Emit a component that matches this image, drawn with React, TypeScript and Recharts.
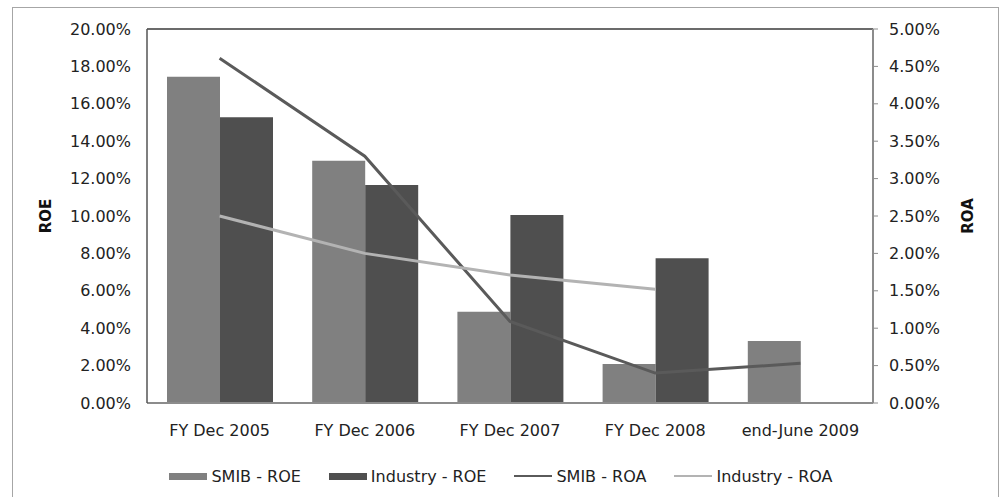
import React from "react";
import {
  ComposedChart,
  Bar,
  Line,
  XAxis,
  YAxis,
  Legend,
  ReferenceLine,
} from "recharts";

const categories = ["FY Dec 2005", "FY Dec 2006", "FY Dec 2007", "FY Dec 2008", "end-June 2009"];
const smibRoe = [17.45, 12.96, 4.88, 2.09, 3.32];
const industryRoe: (number | null)[] = [15.28, 11.66, 10.05, 7.74, null];
const smibRoa = [4.61, 3.3, 1.09, 0.4, 0.53];
const industryRoa: (number | null)[] = [2.5, 2.0, 1.71, 1.52, null];
const roeTicks = [0, 2, 4, 6, 8, 10, 12, 14, 16, 18, 20];
const roaTicks = [0, 0.5, 1, 1.5, 2, 2.5, 3, 3.5, 4, 4.5, 5];

const data = categories.map((c, i) => ({
  name: c,
  smibRoe: smibRoe[i],
  industryRoe: industryRoe[i],
  smibRoa: smibRoa[i],
  industryRoa: industryRoa[i],
}));

const FONT = "'DejaVu Sans', Verdana, sans-serif";
const FS = 16;
const fmt = (v: number) => `${v.toFixed(2)}%`;

const legendItems = [
  { label: "SMIB - ROE", color: "#808080", kind: "bar" },
  { label: "Industry - ROE", color: "#4f4f4f", kind: "bar" },
  { label: "SMIB - ROA", color: "#5a5a5a", kind: "line" },
  { label: "Industry - ROA", color: "#b3b3b3", kind: "line" },
];

const LegendContent = () => (
  <div
    style={{
      display: "flex",
      justifyContent: "center",
      alignItems: "center",
      height: 32,
      fontFamily: FONT,
      fontSize: FS,
      color: "#222",
      gap: 28,
    }}
  >
    {legendItems.map((it) => (
      <div key={it.label} style={{ display: "flex", alignItems: "center" }}>
        <div
          style={{
            width: 38,
            height: it.kind === "bar" ? 7 : 2,
            background: it.color,
            marginRight: 4,
          }}
        />
        <span>{it.label}</span>
      </div>
    ))}
  </div>
);

const axisLabel = (text: string, dx: number) => ({
  content: (props: any) => {
    const vb = props.viewBox;
    const x = vb.x + dx;
    const y = vb.y + vb.height / 2;
    return (
      <text
        x={x}
        y={y}
        transform={`rotate(-90 ${x} ${y})`}
        textAnchor="middle"
        dominantBaseline="central"
        fontFamily={FONT}
        fontSize={15}
        fontWeight="bold"
        fill="#111"
      >
        {text}
      </text>
    );
  },
});

export default function App() {
  return (
    <div style={{ position: "absolute", left: 0, top: 0, width: 1002, height: 497, overflow: "hidden", background: "#fff" }}>
      <div
        style={{
          position: "absolute",
          left: 12,
          top: 7,
          width: 985,
          height: 600,
          border: "1.5px solid #a6a6a6",
        }}
      />
      <div style={{ position: "absolute", left: 0, top: 0 }}>
        <ComposedChart
          width={1002}
          height={497}
          data={data}
          margin={{ top: 29, right: 0, left: 0, bottom: 5 }}
          barCategoryGap={20}
          barGap={0}
        >
          <XAxis
            dataKey="name"
            height={57}
            tickLine={false}
            tickSize={0}
            tickMargin={22}
            axisLine={{ stroke: "#8c8c8c", strokeWidth: 2 }}
            tick={{ fontFamily: FONT, fontSize: FS, fill: "#222" }}
            interval={0}
          />
          <YAxis
            yAxisId="left"
            orientation="left"
            width={147}
            domain={[0, 20]}
            ticks={roeTicks}
            tickFormatter={fmt}
            tickLine={false}
            tickSize={0}
            tickMargin={16}
            axisLine={{ stroke: "#555555", strokeWidth: 1.5 }}
            tick={{ fontFamily: FONT, fontSize: FS, fill: "#222" }}
            label={axisLabel("ROE", 46)}
          />
          <YAxis
            yAxisId="right"
            orientation="right"
            width={129}
            domain={[0, 5]}
            ticks={roaTicks}
            tickFormatter={fmt}
            tickSize={5}
            tickMargin={11}
            tickLine={{ stroke: "#8c8c8c" }}
            axisLine={{ stroke: "#8c8c8c", strokeWidth: 2 }}
            tick={{ fontFamily: FONT, fontSize: FS, fill: "#222" }}
            label={axisLabel("ROA", 95)}
          />
          <ReferenceLine yAxisId="left" y={20} stroke="#3a3a3a" strokeWidth={1.5} />
          <Bar yAxisId="left" dataKey="smibRoe" name="SMIB - ROE" fill="#808080" isAnimationActive={false} />
          <Bar yAxisId="left" dataKey="industryRoe" name="Industry - ROE" fill="#4f4f4f" isAnimationActive={false} />
          <Line
            yAxisId="right"
            type="linear"
            dataKey="smibRoa"
            name="SMIB - ROA"
            stroke="#5a5a5a"
            strokeWidth={3}
            dot={false}
            activeDot={false}
            isAnimationActive={false}
          />
          <Line
            yAxisId="right"
            type="linear"
            dataKey="industryRoa"
            name="Industry - ROA"
            stroke="#b3b3b3"
            strokeWidth={3}
            dot={false}
            activeDot={false}
            isAnimationActive={false}
          />
          <Legend verticalAlign="bottom" height={32} content={<LegendContent />} />
        </ComposedChart>
      </div>
    </div>
  );
}
